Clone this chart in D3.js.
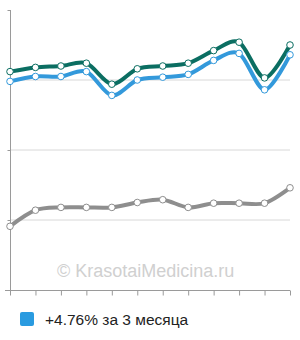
<!DOCTYPE html>
<html>
<head>
<meta charset="utf-8">
<script src="https://cdn.jsdelivr.net/npm/d3@7"></script>
<style>
    body { margin: 0; background: #fff; }
    svg { display: block; }
</style>
</head>
<body>
<div id="chart"></div>
<script>
    // month index 0..11 (3 months, weekly points)
    var points = [0, 1, 2, 3, 4, 5, 6, 7, 8, 9, 10, 11];
    var tealValues = [3.12, 3.18, 3.20, 3.24, 2.94, 3.16, 3.20, 3.24, 3.42, 3.54, 3.03, 3.50];
    var blueValues = [2.98, 3.05, 3.05, 3.12, 2.78, 3.00, 3.04, 3.08, 3.28, 3.38, 2.86, 3.36];
    var grayValues = [0.91, 1.14, 1.18, 1.18, 1.18, 1.25, 1.29, 1.18, 1.24, 1.24, 1.24, 1.46];
    var yTicks = [0, 1, 2, 3, 4];
    var legendLabel = '+4.76% за 3 месяца';
    var watermark = '© KrasotaiMedicina.ru';

    var width = 300, height = 340;
    var svg = d3.select('#chart').append('svg')
        .attr('width', width)
        .attr('height', height);

    var xScale = d3.scaleLinear().domain([0, 11]).range([10, 290]);
    var yScale = d3.scaleLinear().domain([0, 4]).range([290, 10]);

    // grid
    svg.append('g')
        .attr('class', 'grid')
        .selectAll('line')
        .data(yTicks.filter(d => d > 0 && d < 4))
        .enter().append('line')
        .attr('x1', 10).attr('x2', 290)
        .attr('y1', d => yScale(d)).attr('y2', d => yScale(d))
        .style('stroke', '#d8d8d8')
        .style('stroke-width', 1);

    // watermark
    svg.append('text')
        .attr('x', 57)
        .attr('y', 277)
        .style('font-family', 'Liberation Sans, Arial, sans-serif')
        .style('font-size', '18px')
        .style('fill', '#d0d0d0')
        .text(watermark);

    // axes
    var yAxis = d3.axisLeft(yScale).tickValues(yTicks).tickSize(3).tickFormat('');
    var gy = svg.append('g')
        .attr('transform', 'translate(10.5,0)')
        .call(yAxis);
    gy.select('.domain').attr('d', 'M0,10V295');

    var xAxis = d3.axisBottom(xScale).tickValues(points).tickSize(5).tickFormat('');
    var gx = svg.append('g')
        .attr('transform', 'translate(0,290.5)')
        .call(xAxis);
    gx.select('.domain').attr('d', 'M5,0H290');

    svg.selectAll('.domain, .tick line')
        .style('stroke', '#9a9a9a')
        .style('stroke-width', 1);

    var line = d3.line()
        .x((d, i) => xScale(points[i]))
        .y(d => yScale(d))
        .curve(d3.curveCardinal.tension(0.1));

    var series = [
        { name: 'gray', values: grayValues, color: '#8e8e8e' },
        { name: 'teal', values: tealValues, color: '#0b6e62' },
        { name: 'blue', values: blueValues, color: '#3399db' }
    ];

    series.forEach(function(s) {
        svg.append('path')
            .attr('d', line(s.values))
            .style('fill', 'none')
            .style('stroke', s.color)
            .style('stroke-width', 4)
            .style('stroke-linejoin', 'round');
    });

    series.forEach(function(s) {
        svg.append('g')
            .selectAll('circle')
            .data(s.values).enter()
            .append('circle')
            .attr('cx', (d, i) => xScale(points[i]))
            .attr('cy', d => yScale(d))
            .attr('r', 3.3)
            .style('fill', '#fff')
            .style('stroke', s.color)
            .style('stroke-width', 1);
    });

    // legend
    var legend = svg.append('g').attr('transform', 'translate(20,312)');
    legend.append('rect')
        .attr('width', 14)
        .attr('height', 14)
        .attr('rx', 2)
        .style('fill', '#2a9be0');
    legend.append('text')
        .attr('x', 25)
        .attr('y', 13)
        .style('font-family', 'Liberation Sans, Arial, sans-serif')
        .style('font-size', '15.5px')
        .style('fill', '#222')
        .text(legendLabel);
</script>
</body>
</html>
